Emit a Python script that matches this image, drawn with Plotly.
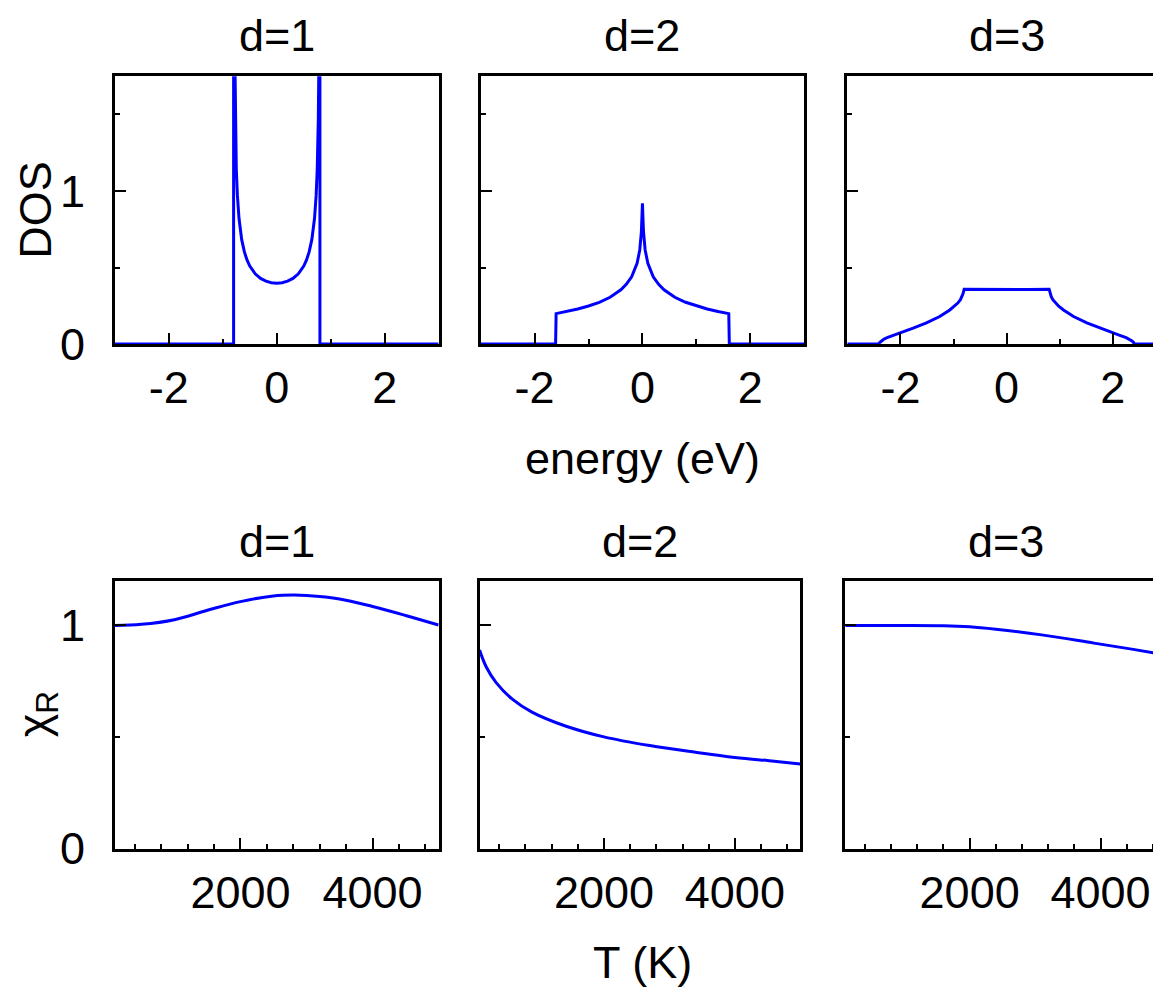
import plotly.graph_objects as go
from plotly.subplots import make_subplots

# DOS vs energy
energy_d1 = [-3.0, -0.8, -0.8, -0.78, -0.77, -0.75, -0.73, -0.7, -0.65, -0.6, -0.55, -0.5, -0.4, -0.3, -0.2, -0.1, 0.0,
             0.1, 0.2, 0.3, 0.4, 0.5, 0.55, 0.6, 0.65, 0.7, 0.73, 0.75, 0.77, 0.78, 0.8, 0.8, 3.0]
dos_d1 = [0, 0, 2.5, 1.79, 1.467, 1.143, 0.973, 0.822, 0.682, 0.602, 0.548, 0.51, 0.459, 0.429, 0.411, 0.401, 0.398,
          0.401, 0.411, 0.429, 0.459, 0.51, 0.548, 0.602, 0.682, 0.822, 0.973, 1.143, 1.467, 1.79, 2.5, 0, 0]

energy_d2 = [-3.0, -1.61, -1.6, -1.4, -1.2, -1.0, -0.8, -0.6, -0.4, -0.3, -0.2, -0.1, -0.05, -0.02, -0.01, 0.0,
             0.01, 0.02, 0.05, 0.1, 0.2, 0.3, 0.4, 0.6, 0.8, 1.0, 1.2, 1.4, 1.6, 1.61, 3.0]
dos_d2 = [0, 0, 0.199, 0.213, 0.229, 0.249, 0.273, 0.306, 0.355, 0.39, 0.44, 0.527, 0.615, 0.731, 0.819, 0.92,
          0.819, 0.731, 0.615, 0.527, 0.44, 0.39, 0.355, 0.306, 0.273, 0.249, 0.229, 0.213, 0.199, 0, 0]

energy_d3 = [-3.0, -2.41, -2.39, -2.36, -2.32, -2.25, -2.13, -2.0, -1.76, -1.51, -1.26, -1.07, -0.98, -0.92,
             -0.87, -0.84, -0.82, -0.8, -0.4, 0.0, 0.4, 0.8, 0.82, 0.84, 0.87, 0.92, 0.98, 1.07, 1.26, 1.51,
             1.76, 2.0, 2.13, 2.25, 2.32, 2.36, 2.39, 2.41, 3.0]
dos_d3 = [0, 0, 0.01, 0.02, 0.03, 0.042, 0.057, 0.07, 0.104, 0.138, 0.18, 0.223, 0.248, 0.268,
          0.29, 0.31, 0.33, 0.359, 0.357, 0.356, 0.357, 0.359, 0.33, 0.31, 0.29, 0.268, 0.248, 0.223, 0.18, 0.138,
          0.104, 0.07, 0.057, 0.042, 0.03, 0.02, 0.01, 0, 0]

# chi_R vs temperature
temp_d1 = [100, 500, 1000, 1500, 2000, 2500, 2800, 3000, 3500, 4000, 4500, 5000]
chi_d1 = [1.0, 1.005, 1.026, 1.068, 1.107, 1.132, 1.136, 1.134, 1.119, 1.085, 1.045, 1.002]

temp_d2 = [100, 200, 350, 600, 900, 1400, 2000, 2700, 3400, 4000, 4600, 5000]
chi_d2 = [0.89, 0.815, 0.745, 0.67, 0.612, 0.551, 0.501, 0.462, 0.432, 0.409, 0.392, 0.38]

temp_d3 = [100, 800, 1600, 2000, 2400, 3100, 3900, 4500, 5000]
chi_d3 = [1.0, 1.0, 0.999, 0.994, 0.983, 0.958, 0.921, 0.893, 0.868]

titles = ['d=1', 'd=2', 'd=3']
energy_ticks = [-2, 0, 2]
energy_ticktext = ['-2', '0', '2']

W, H = 1161, 1008
FONT = 'Liberation Sans, Arial, sans-serif'
FS = 45
BLUE = '#0000ff'

fig = make_subplots(rows=2, cols=3)
tops = [(energy_d1, dos_d1), (energy_d2, dos_d2), (energy_d3, dos_d3)]
bots = [(temp_d1, chi_d1), (temp_d2, chi_d2), (temp_d3, chi_d3)]
for i, (x, y) in enumerate(tops):
    fig.add_trace(go.Scatter(x=x, y=y, mode='lines', line=dict(color=BLUE, width=3)), row=1, col=i + 1)
for i, (x, y) in enumerate(bots):
    fig.add_trace(go.Scatter(x=x, y=y, mode='lines', line=dict(color=BLUE, width=3, shape='spline', smoothing=1)),
                  row=2, col=i + 1)

# panel pixel boxes
top_x = [(107, 431), (473, 797), (840, 1159)]
bot_x = [(107, 431), (472, 793), (838, 1159)]
top_y = (70, 345)
bot_y = (588, 863)

common = dict(showline=True, linecolor='black', linewidth=3, mirror=True, showgrid=False, zeroline=False,
              ticks='inside', ticklen=11, tickwidth=2, tickcolor='black',
              tickfont=dict(family=FONT, size=FS, color='black'))

for i in range(3):
    fig.update_xaxes(domain=[top_x[i][0] / W, top_x[i][1] / W], range=[-3, 3],
                     tickvals=energy_ticks, ticktext=energy_ticktext,
                     minor=dict(ticks='inside', ticklen=5, tickwidth=2, tickcolor='black', dtick=1, tick0=1),
                     ticklabelstandoff=2, row=1, col=i + 1, **common)
    fig.update_yaxes(domain=[1 - top_y[1] / H, 1 - top_y[0] / H], range=[0, 1.75], tick0=0, dtick=1,
                     minor=dict(ticks='inside', ticklen=5, tickwidth=2, tickcolor='black', dtick=0.5, tick0=0),
                     showticklabels=(i == 0), ticklabelstandoff=18, row=1, col=i + 1, **common)
    fig.update_xaxes(domain=[bot_x[i][0] / W, bot_x[i][1] / W], range=[100, 5000], tick0=0, dtick=2000,
                     minor=dict(ticks='inside', ticklen=5, tickwidth=2, tickcolor='black', dtick=400, tick0=0),
                     ticklabelstandoff=2, row=2, col=i + 1, **common)
    fig.update_yaxes(domain=[1 - bot_y[1] / H, 1 - bot_y[0] / H], range=[0, 1.2], tick0=0, dtick=1,
                     minor=dict(ticks='inside', ticklen=5, tickwidth=2, tickcolor='black', dtick=0.5, tick0=0),
                     showticklabels=(i == 0), ticklabelstandoff=18, row=2, col=i + 1, **common)

ann = []
def label(text, px, py, angle=0):
    ann.append(dict(text=text, x=px / W, y=1 - py / H, xref='paper', yref='paper', showarrow=False,
                    xanchor='center', yanchor='middle', textangle=angle,
                    font=dict(family=FONT, size=FS, color='black')))

for i in range(3):
    label(titles[i], (top_x[i][0] + top_x[i][1]) / 2, 28)
    label(titles[i], (bot_x[i][0] + bot_x[i][1]) / 2, 548)
label('energy (eV)', 635, 462)
label('T (K)', 635, 980)
label('DOS', 28, 207, -90)
label('χ<sub>R</sub>', 28, 725, -90)

fig.update_layout(width=W, height=H, margin=dict(l=0, r=0, t=0, b=0), showlegend=False,
                  plot_bgcolor='white', paper_bgcolor='white', annotations=ann)

fig.write_html('out.html')
